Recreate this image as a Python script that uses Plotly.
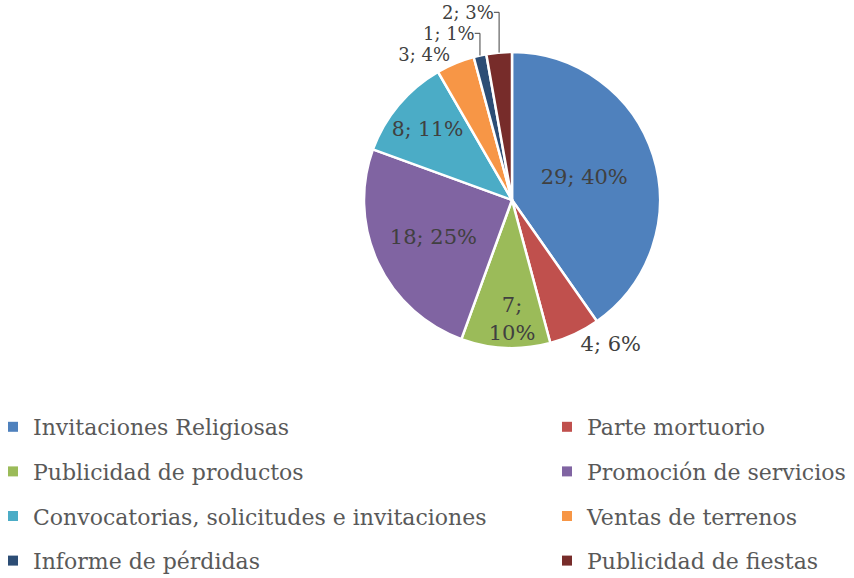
import plotly.graph_objects as go

labels = ["Invitaciones Religiosas", "Parte mortuorio", "Publicidad de productos",
          "Promoción de servicios", "Convocatorias, solicitudes e invitaciones",
          "Ventas de terrenos", "Informe de pérdidas", "Publicidad de fiestas"]
values = [29, 4, 7, 18, 8, 3, 1, 2]
colors = ["#4F81BD", "#C0504D", "#9BBB59", "#8064A2", "#4BACC6", "#F79646", "#2C4D75", "#772C2A"]
text_positions = ["inside", "outside", "inside", "inside", "inside", "outside", "outside", "outside"]
text_sizes = [21, 21, 21, 21, 21, 18, 18, 18]
templates = ["%{value}; %{percent:.0%}", "%{value}; %{percent:.0%}", "%{value};<br>%{percent:.0%}",
             "%{value}; %{percent:.0%}", "%{value}; %{percent:.0%}", "%{value}; %{percent:.0%}",
             "%{value}; %{percent:.0%}", "%{value}; %{percent:.0%}"]

FONT = "DejaVu Serif"
W, H = 854, 578
MB = 200
PH = H - MB

def fx(px):
    return px / W

def fy(py):
    return (PH - py) / PH

# pie geometry (page pixels)
cx, cy, r = 512, 200, 148

fig = go.Figure()
fig.add_trace(go.Pie(
    labels=labels, values=values, sort=False, direction="clockwise", rotation=0,
    marker=dict(colors=colors, line=dict(color="white", width=2.5)),
    texttemplate=templates, textposition=text_positions,
    insidetextorientation="horizontal",
    textfont=dict(family=FONT, size=text_sizes, color="#404040"),
    showlegend=False, hoverinfo="label+value+percent",
    domain=dict(x=[fx(cx - r), fx(cx + r)], y=[fy(cy + r), fy(cy - r)]),
))

for i, (lab, col) in enumerate(zip(labels, colors)):
    fig.add_trace(go.Scatter(
        x=[None], y=[None], mode="markers", name=lab,
        marker=dict(symbol="square", size=10, color=col),
        legend="legend" if i % 2 == 0 else "legend2",
        legendgroup=f"g{i}", showlegend=True,
    ))

leg_common = dict(orientation="v", tracegroupgap=13,
                  font=dict(family=FONT, size=22, color="#595959"),
                  bgcolor="rgba(0,0,0,0)", xanchor="left", yanchor="top",
                  itemclick=False, itemdoubleclick=False)

fig.update_layout(
    width=W, height=H,
    margin=dict(l=0, r=0, t=0, b=MB, autoexpand=False),
    paper_bgcolor="white", plot_bgcolor="white",
    xaxis=dict(visible=False), yaxis=dict(visible=False),
    legend=dict(x=fx(-7), y=fy(406), **leg_common),
    legend2=dict(x=fx(547), y=fy(406), **leg_common),
)

fig.write_html("out.html", config={"displayModeBar": False},
               post_script="document.body.style.margin='0px';")
